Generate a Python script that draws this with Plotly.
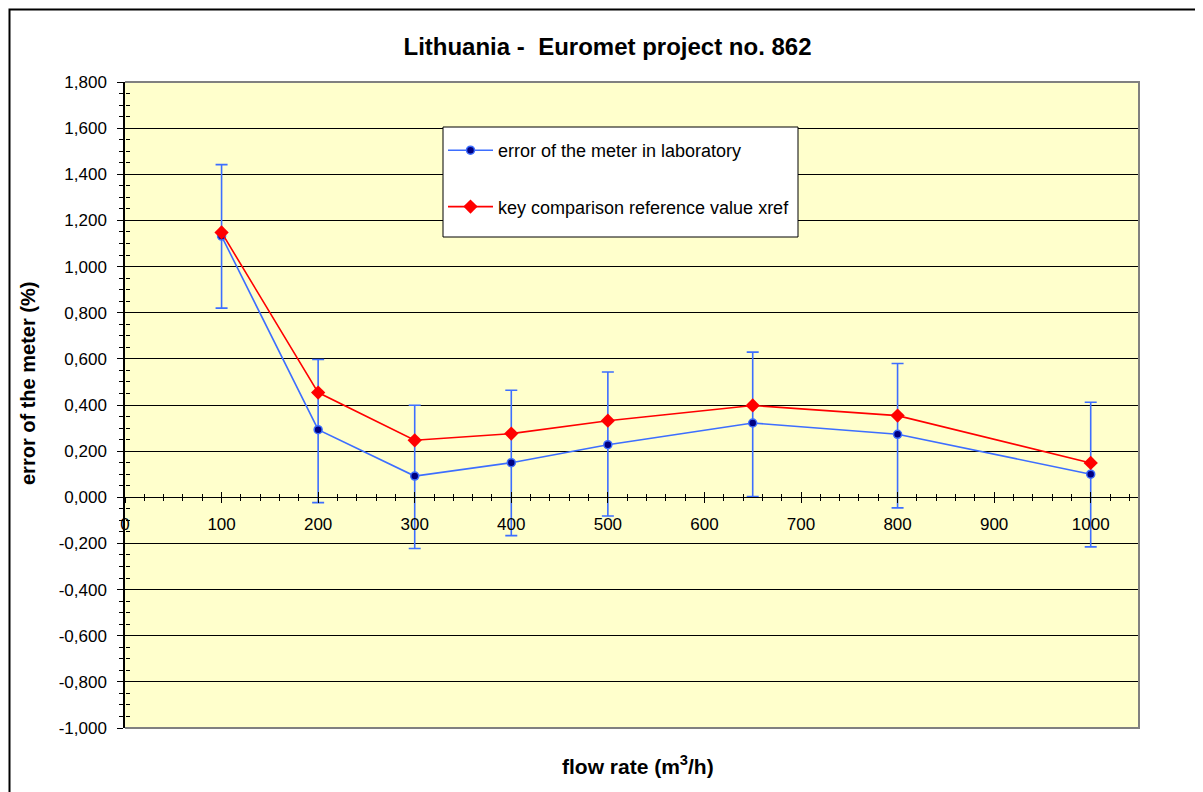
import plotly.graph_objects as go

# ---- data ----
flow_rate = [100, 200, 300, 400, 500, 650, 800, 1000]
lab_error = [1.132, 0.293, 0.092, 0.150, 0.228, 0.322, 0.273, 0.100]
ref_value = [1.148, 0.454, 0.247, 0.276, 0.332, 0.398, 0.354, 0.149]
lab_uncert_plus = [0.310, 0.304, 0.307, 0.314, 0.315, 0.307, 0.307, 0.312]
lab_uncert_minus = [0.312, 0.316, 0.314, 0.316, 0.309, 0.319, 0.319, 0.315]

x_ticks = [0, 100, 200, 300, 400, 500, 600, 700, 800, 900, 1000]
x_labels = ["0", "100", "200", "300", "400", "500", "600", "700", "800", "900", "1000"]
y_ticks = [-1.0, -0.8, -0.6, -0.4, -0.2, 0.0, 0.2, 0.4, 0.6, 0.8, 1.0, 1.2, 1.4, 1.6, 1.8]
y_labels = ["-1,000", "-0,800", "-0,600", "-0,400", "-0,200", "0,000", "0,200", "0,400",
            "0,600", "0,800", "1,000", "1,200", "1,400", "1,600", "1,800"]

X_RANGE = [0, 1050]
Y_RANGE = [-1.0, 1.8]

FONT = "Liberation Sans, Arial, sans-serif"
BLUE = "#3D6EFF"
RED = "#FF0000"

# page offset (browser body margin)
OFF = 8
PL, PT, PW, PH = 125, 82, 1014, 646  # plot area in screen pixels


def px(xs):
    return (xs - PL) / PW


def py(ys):
    return (PT + PH - ys) / PH


fig = go.Figure()

fig.add_trace(go.Scatter(
    x=flow_rate, y=lab_error, mode="lines+markers",
    name="error of the meter in laboratory",
    legendgroup="a",
    line=dict(color=BLUE, width=1.6),
    marker=dict(symbol="circle", size=8, color="#000080", line=dict(color=BLUE, width=1.5)),
    error_y=dict(type="data", symmetric=False, array=lab_uncert_plus, arrayminus=lab_uncert_minus,
                 visible=True, color=BLUE, thickness=1.6, width=6),
))
fig.add_trace(go.Scatter(
    x=flow_rate, y=ref_value, mode="lines+markers",
    name="key comparison reference value xref",
    legendgroup="b",
    line=dict(color=RED, width=1.6),
    marker=dict(symbol="diamond", size=11, color=RED),
))
# helper trace for overlay axes (crossing ticks)
fig.add_trace(go.Scatter(x=[None], y=[None], xaxis="x2", yaxis="y2",
                         showlegend=False, hoverinfo="skip"))

zero_pos = (0 - Y_RANGE[0]) / (Y_RANGE[1] - Y_RANGE[0])

fig.update_layout(
    width=1203, height=792,
    margin=dict(l=PL - OFF, r=1203 - (PL - OFF) - PW, t=PT - OFF, b=792 - (PT - OFF) - PH),
    paper_bgcolor="white",
    plot_bgcolor="#FFFFCC",
    font=dict(family=FONT, size=17, color="black"),
    showlegend=True,
    title=dict(text="<b>Lithuania -  Euromet project no. 862</b>",
               x=(607.5 - OFF) / 1203, xref="container", xanchor="center",
               y=1 - (47 - OFF) / 792, yref="container", yanchor="middle",
               font=dict(family=FONT, size=24, color="black")),
    legend=dict(x=px(443), y=py(132), xanchor="left", yanchor="top",
                bgcolor="rgba(0,0,0,0)", borderwidth=0,
                font=dict(family=FONT, size=18, color="black"),
                traceorder="grouped", tracegroupgap=30, itemwidth=45),
    xaxis=dict(range=X_RANGE, anchor="free", position=zero_pos,
               tickmode="array", tickvals=x_ticks, ticktext=x_labels,
               ticks="outside", ticklen=5, tickwidth=1, tickcolor="black",
               minor=dict(dtick=20, ticks="outside", ticklen=3, tickwidth=1, tickcolor="black", showgrid=False),
               showline=True, linecolor="black", linewidth=1,
               showgrid=False, zeroline=False, ticklabelstandoff=6,
               tickfont=dict(family=FONT, size=17, color="black")),
    yaxis=dict(range=Y_RANGE,
               tickmode="array", tickvals=y_ticks, ticktext=y_labels,
               ticks="outside", ticklen=6, tickwidth=1, tickcolor="black",
               minor=dict(dtick=0.05, tick0=0, ticks="outside", ticklen=4, tickwidth=1, tickcolor="black", showgrid=False),
               showline=True, linecolor="black", linewidth=1.5,
               showgrid=True, gridcolor="black", gridwidth=1, zeroline=False,
               ticklabelstandoff=7,
               tickfont=dict(family=FONT, size=17, color="black")),
    xaxis2=dict(range=X_RANGE, overlaying="x", anchor="free", position=zero_pos,
                tickmode="array", tickvals=x_ticks, showticklabels=False,
                ticks="inside", ticklen=5, tickwidth=1, tickcolor="black",
                minor=dict(dtick=20, ticks="inside", ticklen=3, tickwidth=1, tickcolor="black", showgrid=False),
                showgrid=False, zeroline=False, showline=False),
    yaxis2=dict(range=Y_RANGE, overlaying="y", anchor="free", position=0,
                tickmode="array", tickvals=y_ticks, showticklabels=False,
                ticks="inside", ticklen=5, tickwidth=1, tickcolor="black",
                minor=dict(dtick=0.05, tick0=0, ticks="inside", ticklen=4, tickwidth=1, tickcolor="black", showgrid=False),
                showgrid=False, zeroline=False, showline=False),
    shapes=[
        # plot area border (top, right, bottom) in gray
        dict(type="path", xref="paper", yref="paper",
             path="M 0,1 L 1,1 L 1,0 L 0,0", line=dict(color="#808080", width=2), layer="above"),
        # legend box
        dict(type="rect", xref="paper", yref="paper",
             x0=px(443), x1=px(798), y0=py(237), y1=py(127),
             line=dict(color="black", width=1), fillcolor="white", layer="above"),
        # outer chart border
        dict(type="rect", xref="paper", yref="paper",
             x0=px(9.5), x1=px(1260), y0=py(850), y1=py(9.5),
             line=dict(color="black", width=2), fillcolor="rgba(0,0,0,0)", layer="above"),
    ],
    annotations=[
        dict(text="<b>flow rate (m<sup>3</sup>/h)</b>", xref="paper", yref="paper",
             x=px(638), y=py(765), xanchor="center", yanchor="middle",
             showarrow=False, font=dict(family=FONT, size=21, color="black")),
        dict(text="<b>error of the meter (%)</b>", xref="paper", yref="paper",
             x=px(28), y=py(384), xanchor="center", yanchor="middle",
             textangle=-90, showarrow=False, font=dict(family=FONT, size=20, color="black")),
    ],
)

fig.write_html("out.html")
